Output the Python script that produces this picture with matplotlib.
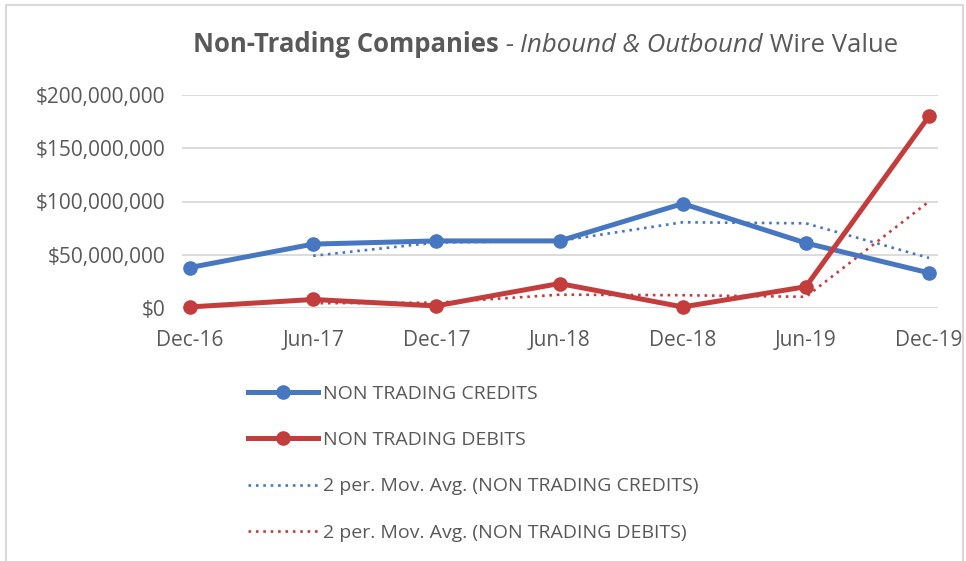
import matplotlib.pyplot as plt
from matplotlib.patches import Rectangle
from matplotlib.ticker import FuncFormatter

periods = ["Dec-16", "Jun-17", "Dec-17", "Jun-18", "Dec-18", "Jun-19", "Dec-19"]
credits = [38e6, 60e6, 63e6, 63e6, 98e6, 61e6, 33e6]
debits = [1e6, 8e6, 2e6, 23e6, 1e6, 20e6, 180e6]
# 2 period moving averages (start at Jun-17)
credits_ma = [49e6, 61.5e6, 63e6, 80.5e6, 79.5e6, 47e6]
debits_ma = [4.5e6, 5e6, 12.5e6, 12e6, 10.5e6, 100e6]

blue = "#4677C0"
red = "#C43D3D"
text_col = "#595959"
W, H = 966, 561

plt.rcParams["font.family"] = ["Open Sans", "DejaVu Sans"]

fig = plt.figure(figsize=(W / 100, H / 100), dpi=100)
ax = fig.add_axes([182 / W, 1 - 308 / H, 756 / W, 213 / H])

x = list(range(len(periods)))
ax.plot(x, credits, color=blue, lw=3.6, marker="o", ms=9.5, clip_on=False,
        label="NON TRADING CREDITS", zorder=4)
ax.plot(x, debits, color=red, lw=3.6, marker="o", ms=9.5, clip_on=False,
        label="NON TRADING DEBITS", zorder=4)
ax.plot(x[1:], credits_ma, color=blue, lw=1.9, ls=(0, (1, 1.8)),
        label="2 per. Mov. Avg. (NON TRADING CREDITS)", zorder=3)
ax.plot(x[1:], debits_ma, color=red, lw=1.9, ls=(0, (1, 1.8)),
        label="2 per. Mov. Avg. (NON TRADING DEBITS)", zorder=3)

ax.set_xlim(-0.065, 6.073)
ax.set_ylim(0, 200e6)
ax.set_yticks([0, 50e6, 100e6, 150e6, 200e6])
ax.yaxis.set_major_formatter(FuncFormatter(lambda v, p: f"${v:,.0f}"))
ax.set_xticks(x)
ax.set_xticklabels(periods)
ax.grid(axis="y", color="#D9D9D9", lw=1.3)
ax.set_axisbelow(True)
for s in ax.spines.values():
    s.set_visible(False)
ax.tick_params(length=0, labelsize=15, colors=text_col)
ax.tick_params(axis="x", pad=16)
ax.tick_params(axis="y", pad=12)

# title made of bold / regular / italic pieces laid end to end
pieces = [("Non-Trading Companies", "bold", "normal"),
          (" - ", "normal", "normal"),
          ("Inbound & Outbound", "normal", "italic"),
          (" Wire Value", "normal", "normal")]
fig.canvas.draw()
renderer = fig.canvas.get_renderer()
tx = 193
for txt, weight, style in pieces:
    t = fig.text(tx / W, 1 - 45 / H, txt, ha="left", va="center", fontsize=18.5,
                 fontweight=weight, fontstyle=style, color=text_col)
    tx += t.get_window_extent(renderer).width

ax.legend(loc="upper left", bbox_to_anchor=(248 / W, 1 - 385 / H),
          bbox_transform=fig.transFigure, frameon=False, fontsize=14,
          labelcolor=text_col, handlelength=3.6, labelspacing=1.45,
          handletextpad=0.28, borderpad=0, borderaxespad=0)

fig.patches.append(Rectangle((6 / W, -0.01), 957 / W, 1.01 - 5 / H,
                             transform=fig.transFigure, fill=False,
                             edgecolor="#D9D9D9", lw=1.5))
fig.savefig("out.png", dpi=100)
